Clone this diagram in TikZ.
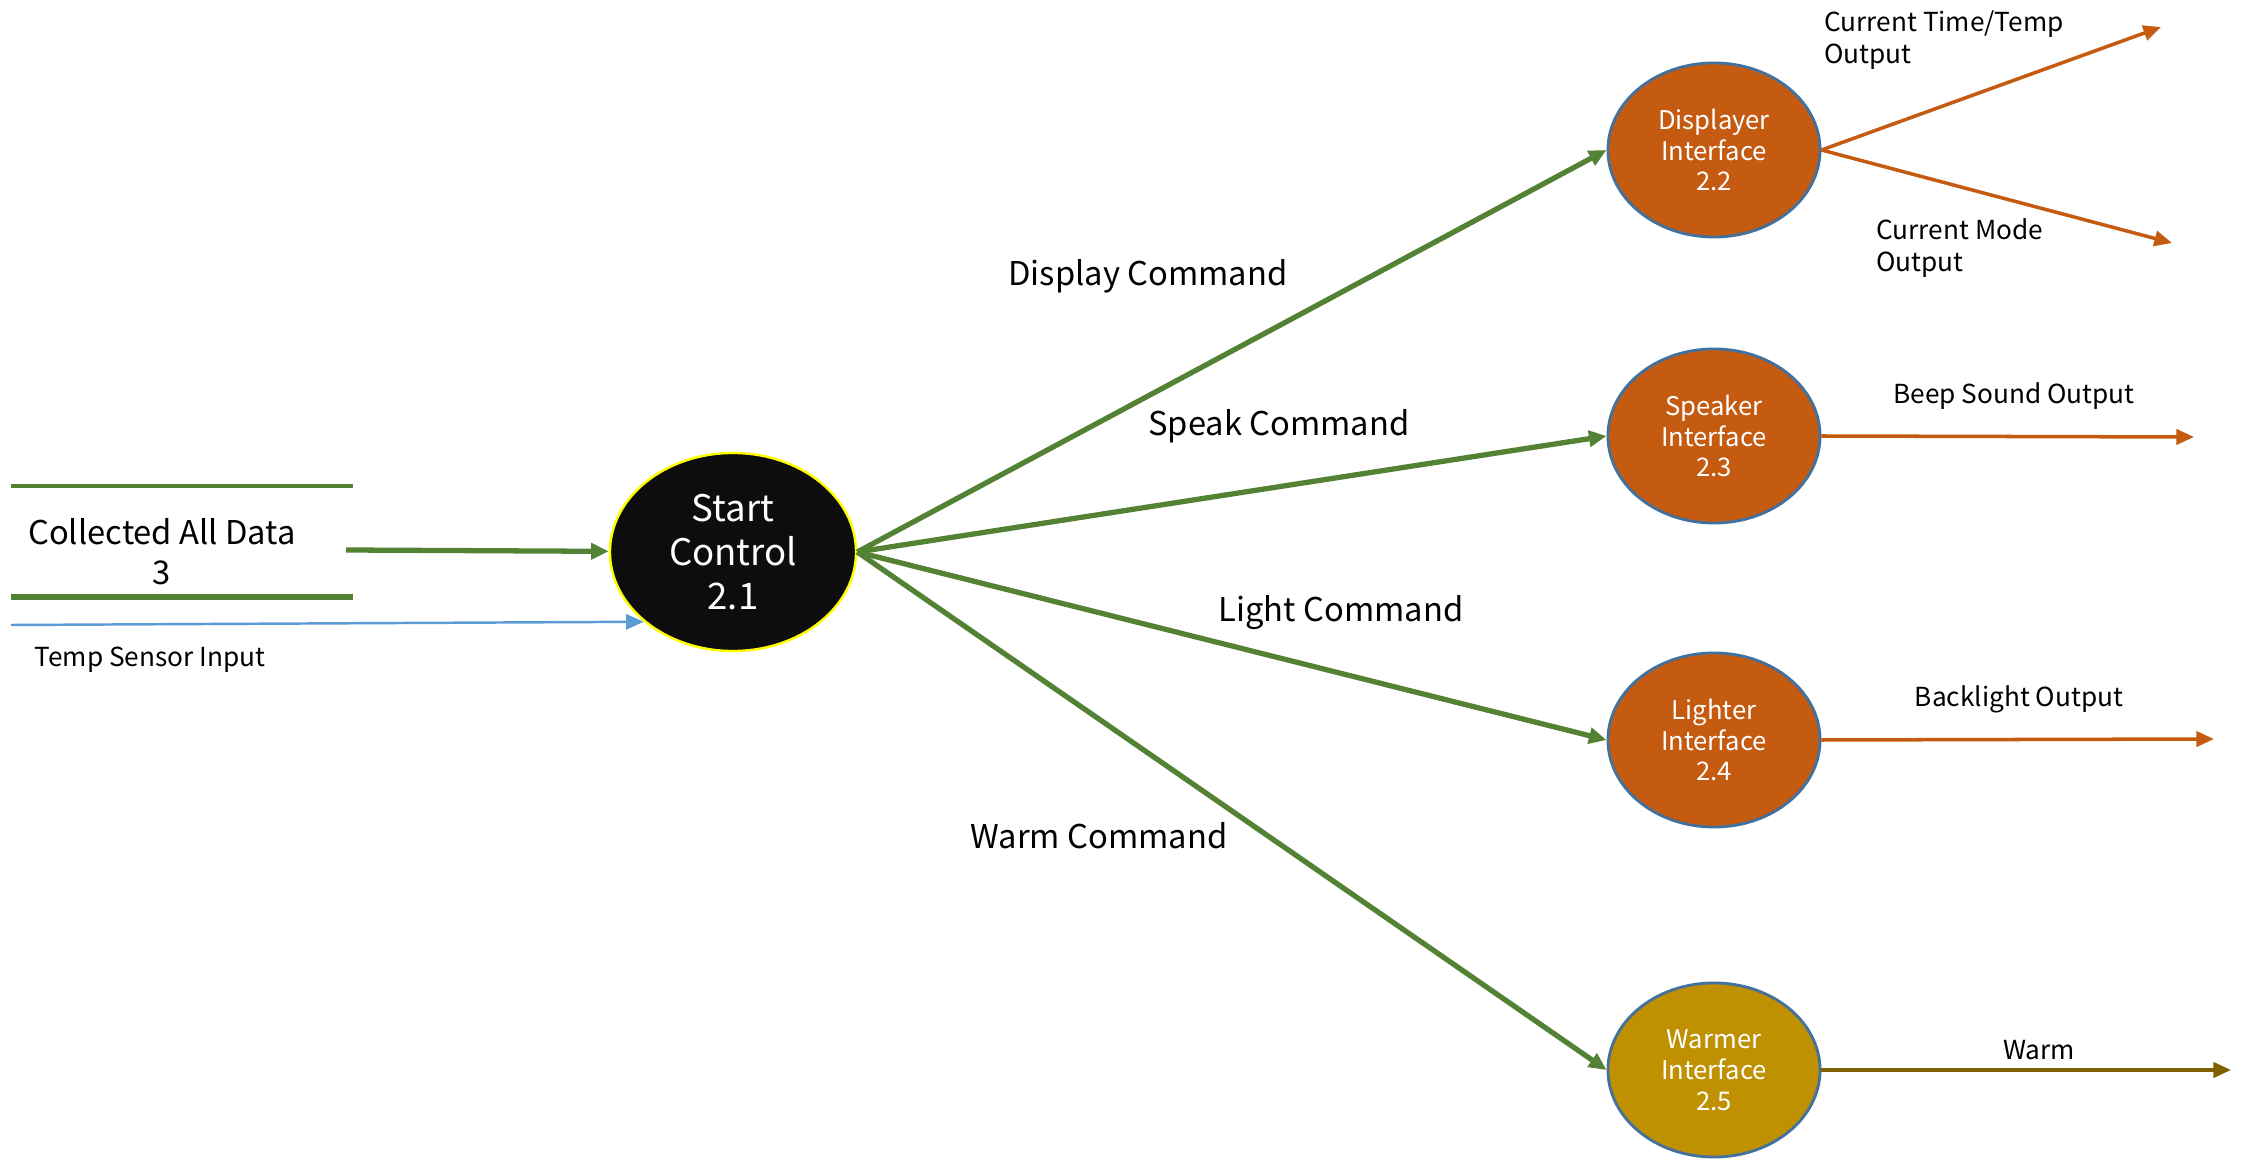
\documentclass[tikz,border=0pt]{standalone}
\usepackage{fontspec}
\setmainfont{Noto Sans CJK KR}
\usepackage{tikz}
\usetikzlibrary{shapes.geometric}
\usetikzlibrary{arrows.meta}

\definecolor{flowgreen}{HTML}{548235}
\definecolor{procorange}{HTML}{C55A11}
\definecolor{procblue}{HTML}{41719C}
\definecolor{warmgold}{HTML}{BF9000}
\definecolor{warmbrown}{HTML}{7F6000}
\definecolor{sensorblue}{HTML}{5B9BD5}
\definecolor{startyellow}{HTML}{FFFF00}

\begin{document}
\begin{tikzpicture}[x=0.01cm, y=-0.01cm,
      process/.style={ellipse, draw=procblue, line width=0.8pt,
          fill=procorange, text=white, align=center, inner sep=0pt,
          minimum width=2.12cm, minimum height=1.74cm,
          font=\fontsize{7.3}{8.8}\selectfont},
      flow line/.style={draw=flowgreen, line width=1.5pt,
          -{Triangle[length=5pt,width=4.5pt]}},
      out line/.style={draw=procorange, line width=1pt,
          -{Triangle[length=5pt,width=4.3pt]}},
      flow label/.style={font=\fontsize{9.3}{11.4}\selectfont},
      out label/.style={font=\fontsize{7.45}{8.9}\selectfont, align=left}]
    \useasboundingbox (0,0) rectangle (2241,1167);

    \node[process, draw=startyellow, fill=black!95, line width=0.7pt,
      minimum width=2.46cm, minimum height=1.98cm,
      font=\fontsize{10.4}{12.5}\selectfont] (start) at (733,552)
      {Start\\Control\\2.1};
    \node[process] (disp) at (1714,150) {Displayer\\Interface\\2.2};
    \node[process] (spk) at (1714,436) {Speaker\\Interface\\2.3};
    \node[process] (light) at (1714,740) {Lighter\\Interface\\2.4};
    \node[process, fill=warmgold] (warm) at (1714,1070) {Warmer\\Interface\\2.5};

    \draw[flowgreen, line width=1.1pt] (11,486) -- (353,486);
    \draw[flowgreen, line width=1.8pt] (11,597) -- (353,597);
    \node[flow label, align=center] (store) at (162,552) {Collected All Data\\3};
    \coordinate (store out) at (346,550);
    \coordinate (temp in) at (11,625);
    \node[out label] (temp) at (150,660) {Temp Sensor Input};

    \node[flow label] (l-disp) at (1148,276) {Display Command};
    \node[flow label] (l-spk) at (1279,426) {Speak Command};
    \node[flow label] (l-light) at (1341,613) {Light Command};
    \node[flow label] (l-warm) at (1099,836) {Warm Command};

    \coordinate (o-time) at (2161,27);
    \coordinate (o-mode) at (2172,243);
    \coordinate (o-beep) at (2194,437);
    \coordinate (o-back) at (2214,739);
    \coordinate (o-warm) at (2231,1070);
    \node[out label, anchor=west] (l-time) at (1812,40) {Current Time/Temp\\Output};
    \node[out label, anchor=west] (l-mode) at (1864,248) {Current Mode\\Output};
    \node[out label] (l-beep) at (2014,396) {Beep Sound Output};
    \node[out label] (l-back) at (2019,699) {Backlight Output};
    \node[out label] (l-warmout) at (2039,1050) {Warm};

    \path
    (store out) edge [flow line] (start)
    (temp in) edge [draw=sensorblue, line width=0.7pt,
      -{Triangle[length=5pt,width=4.3pt]}] (start.218)
    (start.east) edge [flow line] (disp.west)
    edge [flow line] (spk.west)
    edge [flow line] (light.west)
    edge [flow line] (warm.west)
    (disp.east) edge [out line] (o-time)
    edge [out line] (o-mode)
    (spk.east) edge [out line] (o-beep)
    (light.east) edge [out line] (o-back)
    (warm.east) edge [out line, draw=warmbrown] (o-warm);
  \end{tikzpicture}
\end{document}
